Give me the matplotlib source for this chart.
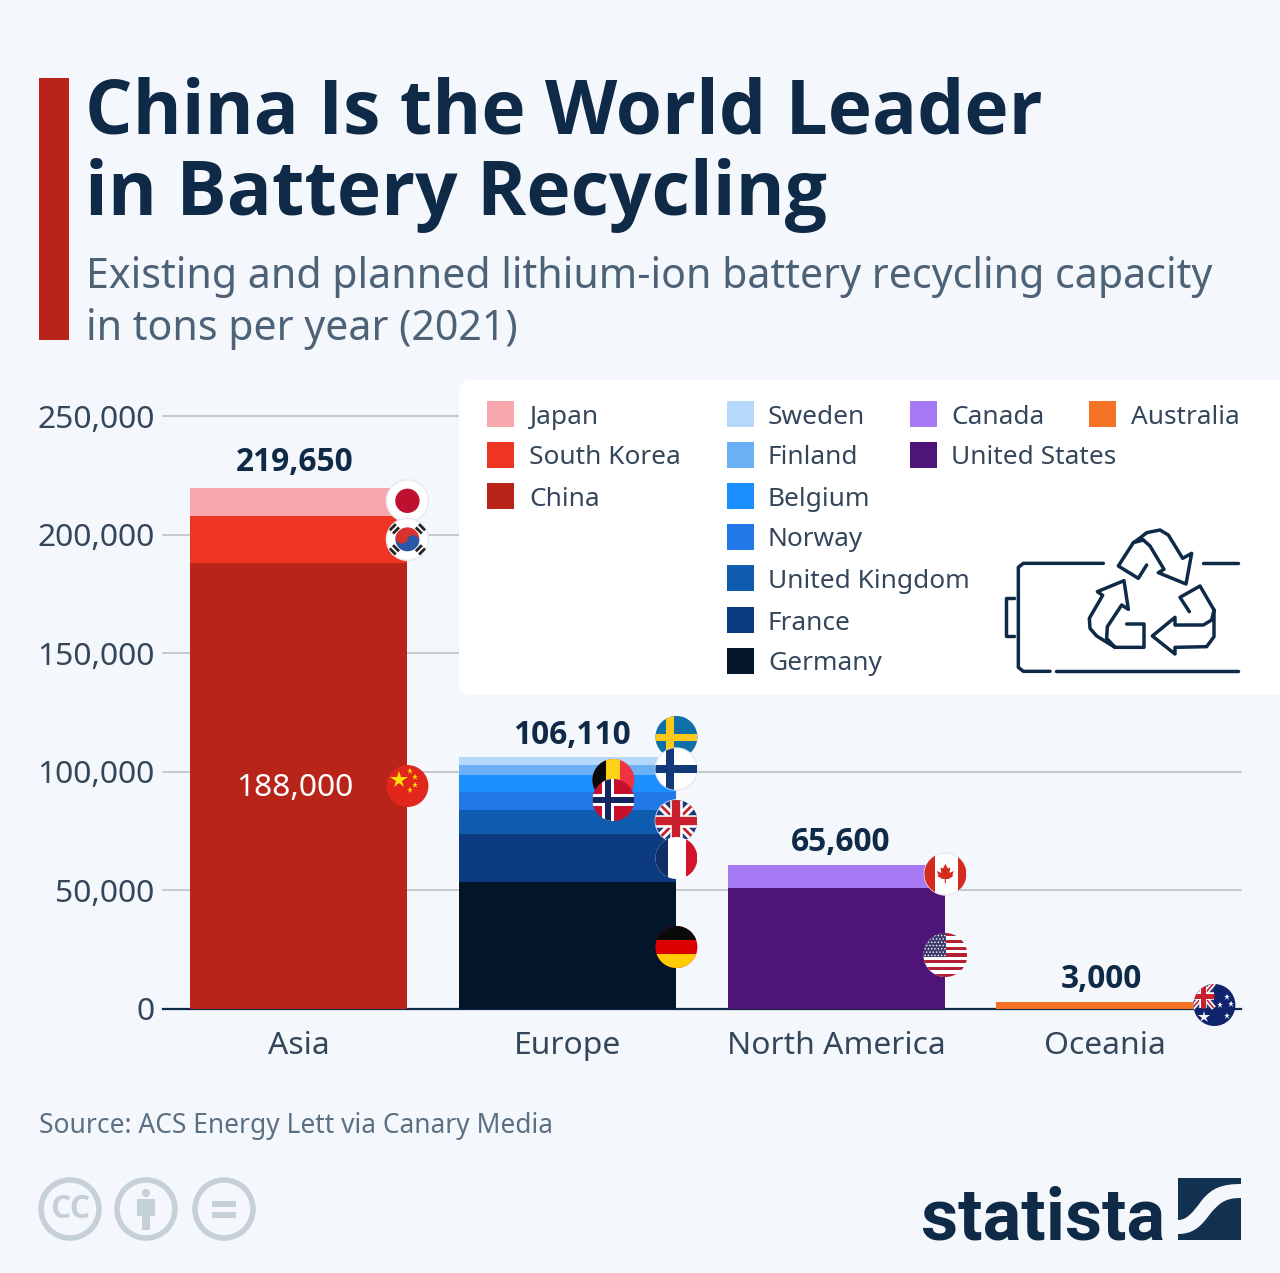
#!/usr/bin/env python3
import numpy as np
import matplotlib
matplotlib.use("Agg")
import matplotlib.pyplot as plt
from matplotlib import font_manager as fm
from matplotlib.patches import Rectangle, Circle, FancyBboxPatch, Wedge, PathPatch, Polygon
from matplotlib.path import Path

plt.rcParams['font.family'] = ['Noto Sans', 'DejaVu Sans']

W, H = 1280, 1273
BG = "#f4f7fb"
NAVY = "#0f2a47"
BOLD = "Open Sans"

# data
regions = ["Asia", "Europe", "North America", "Oceania"]
totals = [219650, 106110, 65600, 3000]
asia_names = ["China", "South Korea", "Japan"]
asia_values = [188000, 20000, 11650]
asia_colors = ["#b8241a", "#ee3524", "#f7a8ae"]
europe_names = ["Germany", "France", "United Kingdom", "Norway", "Belgium", "Finland", "Sweden"]
europe_values = [53500, 20200, 10100, 7600, 7200, 4400, 3110]
europe_colors = ["#031529", "#0b3a80", "#0e5bb0", "#2378e8", "#1a8fff", "#6bb0f5", "#b5d8fb"]
america_names = ["United States", "Canada"]
# the drawn stack in the reference is shorter than its 65,600 label
america_values = [51000, 9600]
america_colors = ["#4e1478", "#a679f5"]
oceania_names = ["Australia"]
oceania_values = [3000]
oceania_colors = ["#f57327"]

yticks = [0, 50000, 100000, 150000, 200000, 250000]

fig = plt.figure(figsize=(W / 100, H / 100), dpi=100, facecolor=BG)

# chart axes, placed so the scale lands on the pixels of the reference
ax = fig.add_axes([163 / W, 1 - 1009 / H, (1241 - 163) / W, (1009 - 416) / H], facecolor="none")
ax.set_xlim(-0.5037, 3.504)
ax.set_ylim(0, 250000)
ax.set_axisbelow(True)
ax.yaxis.grid(True, color="#b9bdc2", lw=1.1)
for g in ax.get_ygridlines():
    g.set_clip_on(False)
for s in ["top", "left", "right"]:
    ax.spines[s].set_visible(False)
ax.spines["bottom"].set_color(NAVY)
ax.spines["bottom"].set_linewidth(1.6)
ax.set_yticks(yticks)
ax.set_yticklabels(["{:,}".format(v) for v in yticks])
ax.set_xticks(range(4))
ax.set_xticklabels(regions)
ax.tick_params(axis="both", length=0, labelsize=22.9, labelcolor="#33465a")
ax.tick_params(axis="y", pad=6)
ax.tick_params(axis="x", pad=15.5)

groups = [(asia_names, asia_values, asia_colors),
          (europe_names, europe_values, europe_colors),
          (america_names, america_values, america_colors),
          (oceania_names, oceania_values, oceania_colors)]
BAR_W = 0.81
mids = {}
tops = []
for i, (names, vals, cols) in enumerate(groups):
    bottom = 0
    for n, v, c in zip(names, vals, cols):
        ax.bar(i, v, BAR_W, bottom=bottom, color=c, zorder=3)
        mids[n] = (i + BAR_W / 2, bottom + v / 2)
        bottom += v
    tops.append(bottom)

# overlay in pixels for everything that is not the chart itself
ov = fig.add_axes([0, 0, 1, 1], facecolor="none")
ov.set_xlim(0, W)
ov.set_ylim(H, 0)
ov.axis("off")


def to_px(x, y):
    return ov.transData.inverted().transform(ax.transData.transform((x, y)))


ax.text(0 - 0.013, 188000 / 2 - 1000, "188,000", color="white", fontsize=22.9,
        ha="center", va="center", zorder=5)
label_shift = [-3.5, 4, 4, -4]
label_up = [25, 22, 23, 22]
for i, t in enumerate(totals):
    px, py = to_px(i, tops[i])
    ov.text(px + label_shift[i], py - label_up[i], "{:,}".format(t), fontsize=22.8, fontweight="bold",
            family=BOLD, color=NAVY, ha="center", va="center", zorder=6)

# header
ov.add_patch(Rectangle((39, 78), 30, 262, fc="#b8241a", ec="none"))
ov.text(85, 133, "China Is the World Leader", fontsize=53.8, fontweight="bold", family=BOLD, color=NAVY,
        va="baseline")
ov.text(85, 215, "in Battery Recycling", fontsize=53.8, fontweight="bold", family=BOLD, color=NAVY,
        va="baseline")
ov.text(86, 288, "Existing and planned lithium-ion battery recycling capacity", fontsize=29.6,
        color="#4d6277", va="baseline")
ov.text(86, 340, "in tons per year (2021)", fontsize=29.6, color="#4d6277", va="baseline")

# legend panel
ov.add_patch(FancyBboxPatch((459, 380), 900, 315, boxstyle="round,pad=0,rounding_size=12",
                            fc="white", ec="none", zorder=2))

legend_cols = [
    (487, 529, asia_names[::-1], asia_colors[::-1]),
    (727, 768, europe_names[::-1], europe_colors[::-1]),
    (910, 951, america_names[::-1], america_colors[::-1]),
    (1089, 1131, oceania_names, oceania_colors),
]
row_y = [414, 455, 496, 537, 578, 620, 661]
for sx, tx, names, cols in legend_cols:
    for k, (n, c) in enumerate(zip(names, cols)):
        ov.add_patch(Rectangle((sx, row_y[k] - 13), 27, 26, fc=c, ec="none", zorder=3))
        ov.text(tx, row_y[k] + 3, n, fontsize=18.9, color="#33465a", va="center", zorder=3)


# battery icon, zoom crop coordinates converted to pixels
def icon_line(pts, lw=2.5):
    a = np.array(pts, dtype=float)
    ov.plot(990 + a[:, 0] / 3, 510 + a[:, 1] / 3, color=NAVY, lw=lw, solid_capstyle="round",
            solid_joinstyle="round", zorder=4)


icon_line([(340, 160), (100, 160), (85, 172), (85, 472), (100, 484), (180, 484)])
icon_line([(198, 484), (745, 484)])
icon_line([(640, 160), (745, 160)])
icon_line([(72, 265), (47, 265), (47, 378), (72, 378)])
icon_line([(445, 88), (470, 68), (510, 60), (535, 75), (578, 145), (605, 130), (588, 222), (505, 188),
           (522, 178), (480, 108), (460, 90), (430, 98), (385, 168), (445, 205), (470, 165)])
icon_line([(430, 98), (445, 88), (460, 90)])
icon_line([(598, 305), (570, 262), (630, 228), (672, 300), (672, 380), (650, 410), (555, 412), (555, 432),
           (487, 378), (555, 322), (555, 345), (640, 345), (665, 330), (672, 300)])
icon_line([(410, 342), (462, 342), (462, 412), (375, 412), (350, 385), (352, 350), (395, 285), (415, 298),
           (402, 212), (322, 245), (338, 256), (298, 325), (300, 355), (320, 378), (375, 412)])

# flags
zf = [10]


def disc(cx, cy, color, r=21, edge=None):
    zf[0] += 10
    c = Circle((cx, cy), r, fc=color, ec=edge if edge else "none", lw=1 if edge else 0, zorder=zf[0])
    ov.add_patch(c)
    return c


def block(c, x0, y0, x1, y1, color):
    # rectangle in flag units, -1..1 across the disc
    cx, cy = c.center
    r = c.radius
    p = Rectangle((cx + x0 * r, cy + y0 * r), (x1 - x0) * r, (y1 - y0) * r, fc=color, ec="none",
                  zorder=c.get_zorder() + 1)
    ov.add_patch(p)
    p.set_clip_path(c)
    return p


def bar_line(c, x0, y0, x1, y1, color, lw):
    cx, cy = c.center
    r = c.radius
    l, = ov.plot([cx + x0 * r, cx + x1 * r], [cy + y0 * r, cy + y1 * r], color=color, lw=lw,
                 solid_capstyle="butt", zorder=c.get_zorder() + 2)
    l.set_clip_path(c)


def dot(c, x, y, s, color, zadd=3):
    cx, cy = c.center
    r = c.radius
    p = Circle((cx + x * r, cy + y * r), s * r, fc=color, ec="none", zorder=c.get_zorder() + zadd)
    ov.add_patch(p)
    p.set_clip_path(c)


def star(c, x, y, size, color):
    cx, cy = c.center
    r = c.radius
    l, = ov.plot([cx + x * r], [cy + y * r], marker="*", ms=size, color=color, mew=0, ls="none",
                 zorder=c.get_zorder() + 4)
    l.set_clip_path(c)


def union_jack(c, x0, y0, x1, y1, k=1.0):
    block(c, x0, y0, x1, y1, "#1f3a7a")
    bar_line(c, x0, y0, x1, y1, "white", 6 * k)
    bar_line(c, x0, y1, x1, y0, "white", 6 * k)
    bar_line(c, x0, y0, x1, y1, "#c8202f", 2 * k)
    bar_line(c, x0, y1, x1, y0, "#c8202f", 2 * k)
    xm, ym = (x0 + x1) / 2, (y0 + y1) / 2
    bar_line(c, xm, y0, xm, y1, "white", 9 * k)
    bar_line(c, x0, ym, x1, ym, "white", 9 * k)
    bar_line(c, xm, y0, xm, y1, "#c8202f", 6 * k)
    bar_line(c, x0, ym, x1, ym, "#c8202f", 6 * k)


x_right = [to_px(i + BAR_W / 2, 0)[0] for i in range(4)]


def flag_at(name, dx=0, dy=0):
    px, py = to_px(*mids[name])
    return px + dx, py + dy


# Japan
c = disc(*flag_at("Japan", 0, -1), "white", 21, "#e6e9ee")
dot(c, 0, 0, 0.58, "#c0102f")

# South Korea
c = disc(*flag_at("South Korea"), "white", 21, "#e6e9ee")
cx, cy = c.center
zk = c.get_zorder() + 1
ov.add_patch(Wedge((cx, cy), 12, 20, 200, fc="#2a57a8", ec="none", zorder=zk))
ov.add_patch(Wedge((cx, cy), 12, 200, 380, fc="#d8322f", ec="none", zorder=zk))
dot(c, -0.27, -0.09, 0.29, "#d8322f", 2)
dot(c, 0.27, 0.09, 0.29, "#2a57a8", 2)
for sx_, sy_ in [(-1, -1), (1, -1), (-1, 1), (1, 1)]:
    for off in [-0.11, 0.11]:
        mx, my = sx_ * 0.62 + off * 0.7, sy_ * 0.5 + off * 0.7 * sx_ * sy_
        bar_line(c, mx - 0.18 * sx_ * sy_ * 0.8, my + 0.18 * 0.8, mx + 0.18 * sx_ * sy_ * 0.8, my - 0.18 * 0.8,
                 "#222222", 2)

# China
c = disc(*flag_at("China"), "#e1261c")
star(c, -0.38, -0.3, 13, "#ffde00")
for sx_, sy_ in [(0.12, -0.7), (0.38, -0.42), (0.38, -0.06), (0.12, 0.2)]:
    star(c, sx_, sy_, 5, "#ffde00")

# Europe
x_eu = x_right[1]
c = disc(x_eu, 737, "#0f6fa8")
block(c, -1, -0.16, 1, 0.2, "#fcc916")
block(c, -0.5, -1, -0.12, 1, "#fcc916")

c = disc(x_eu, 769, "white", 21, "#e6e9ee")
block(c, -1, -0.18, 1, 0.18, "#123a7a")
block(c, -0.5, -1, -0.12, 1, "#123a7a")

c = disc(x_eu - 63, 780, "#ef3340")
block(c, -1, -1, -0.33, 1, "#0a0a0a")
block(c, -0.33, -1, 0.33, 1, "#fcd116")

c = disc(x_eu - 63, 800, "#c8102e")
block(c, -1, -0.3, 1, 0.3, "white")
block(c, -0.52, -1, 0.02, 1, "white")
block(c, -1, -0.14, 1, 0.14, "#12275f")
block(c, -0.38, -1, -0.12, 1, "#12275f")

c = disc(x_eu, 821, "#1f3a7a", 21, "white")
union_jack(c, -1, -1, 1, 1)

c = disc(x_eu, 858, "white")
block(c, -1, -1, -0.42, 1, "#0f2f66")
block(c, 0.45, -1, 1, 1, "#d4142a")

c = disc(x_eu, 947, "#dd0000")
block(c, -1, -1, 1, -0.33, "#0a0a0a")
block(c, -1, 0.33, 1, 1, "#ffcc00")

# Canada
c = disc(x_right[2], 874, "white", 21, "#e6e9ee")
block(c, -1, -1, -0.5, 1, "#d52b1e")
block(c, 0.6, -1, 1, 1, "#d52b1e")
cx, cy = c.center
leaf = [(0, -10), (2.5, -5.5), (5, -6.5), (4, -1), (8.5, -3), (7, 1), (8, 2), (3, 5), (0.6, 5), (0.6, 9),
        (-0.6, 9), (-0.6, 5), (-3, 5), (-8, 2), (-7, 1), (-8.5, -3), (-4, -1), (-5, -6.5), (-2.5, -5.5)]
ov.add_patch(Polygon([(cx + a, cy + b) for a, b in leaf], closed=True, fc="#d52b1e", ec="none",
                     zorder=c.get_zorder() + 2))

# United States
c = disc(x_right[2], 955, "white", 22)
for k in range(13):
    if k % 2 == 0:
        block(c, -1, -1 + k * 2 / 13, 1, -1 + (k + 1) * 2 / 13, "#b22234")
block(c, -1, -1, 0.02, 0.08, "#3c3b6e")
for row in range(7):
    for col in range(7):
        dot(c, -0.92 + col * 0.15 + (0.07 if row % 2 else 0), -0.88 + row * 0.15, 0.035, "white")

# Australia
c = disc(x_right[3], 1005, "#10246e")
union_jack(c, -1.05, -1.05, -0.02, 0.15, 0.6)
star(c, -0.5, 0.55, 9, "white")
for sx_, sy_ in [(0.25, 0.0), (0.58, -0.4), (0.78, -0.05), (0.58, 0.5)]:
    star(c, sx_, sy_, 5, "white")

# footer
ov.text(39, 1126, "Source: ACS Energy Lett via Canary Media", fontsize=19, color="#5c7084", va="center")

GREY = "#c5d0d8"
for x in [70, 146, 224]:
    ov.add_patch(Circle((x, 1209), 29, fc="none", ec=GREY, lw=4))
ov.text(70, 1209, "CC", fontsize=23, fontweight="bold", family=BOLD, color=GREY, ha="center", va="center")
ov.add_patch(Circle((146, 1193), 4, fc=GREY, ec="none"))
ov.add_patch(Rectangle((137, 1199), 18, 17, fc=GREY, ec="none"))
ov.add_patch(Rectangle((142, 1214), 8, 16, fc=GREY, ec="none"))
ov.add_patch(Rectangle((212, 1201), 24, 6, fc=GREY, ec="none"))
ov.add_patch(Rectangle((212, 1212), 24, 6, fc=GREY, ec="none"))

# a condensed bold face if one is installed, else Roboto bold
narrow = [e for e in fm.fontManager.ttflist
          if e.stretch == "condensed" and e.style == "normal" and int(e.weight) >= 600
          and e.name in ("Open Sans", "Roboto", "Noto Sans")]
if narrow:
    logo_font = fm.FontProperties(fname=narrow[0].fname, size=62)
else:
    logo_font = fm.FontProperties(family="Roboto", weight="bold", size=52)
ov.text(921, 1240, "statista", fontproperties=logo_font, color=NAVY, va="baseline")

LOGO = "#12304f"
MC, CC = Path.MOVETO, Path.CURVE4
L = Path.LINETO
ov.add_patch(PathPatch(Path([(1178, 1178), (1241, 1178), (1241, 1184), (1222, 1184), (1212, 1188), (1202, 1200),
                             (1192, 1214), (1186, 1220), (1178, 1220), (1178, 1178)],
                            [MC, L, L, CC, CC, CC, CC, CC, CC, L]), fc=LOGO, ec="none"))
ov.add_patch(PathPatch(Path([(1241, 1198), (1226, 1198), (1220, 1202), (1210, 1214), (1200, 1228), (1192, 1234),
                             (1178, 1234), (1178, 1240), (1241, 1240), (1241, 1198)],
                            [MC, CC, CC, CC, CC, CC, CC, L, L, L]), fc=LOGO, ec="none"))

fig.savefig("out.png", dpi=100, facecolor=BG)
